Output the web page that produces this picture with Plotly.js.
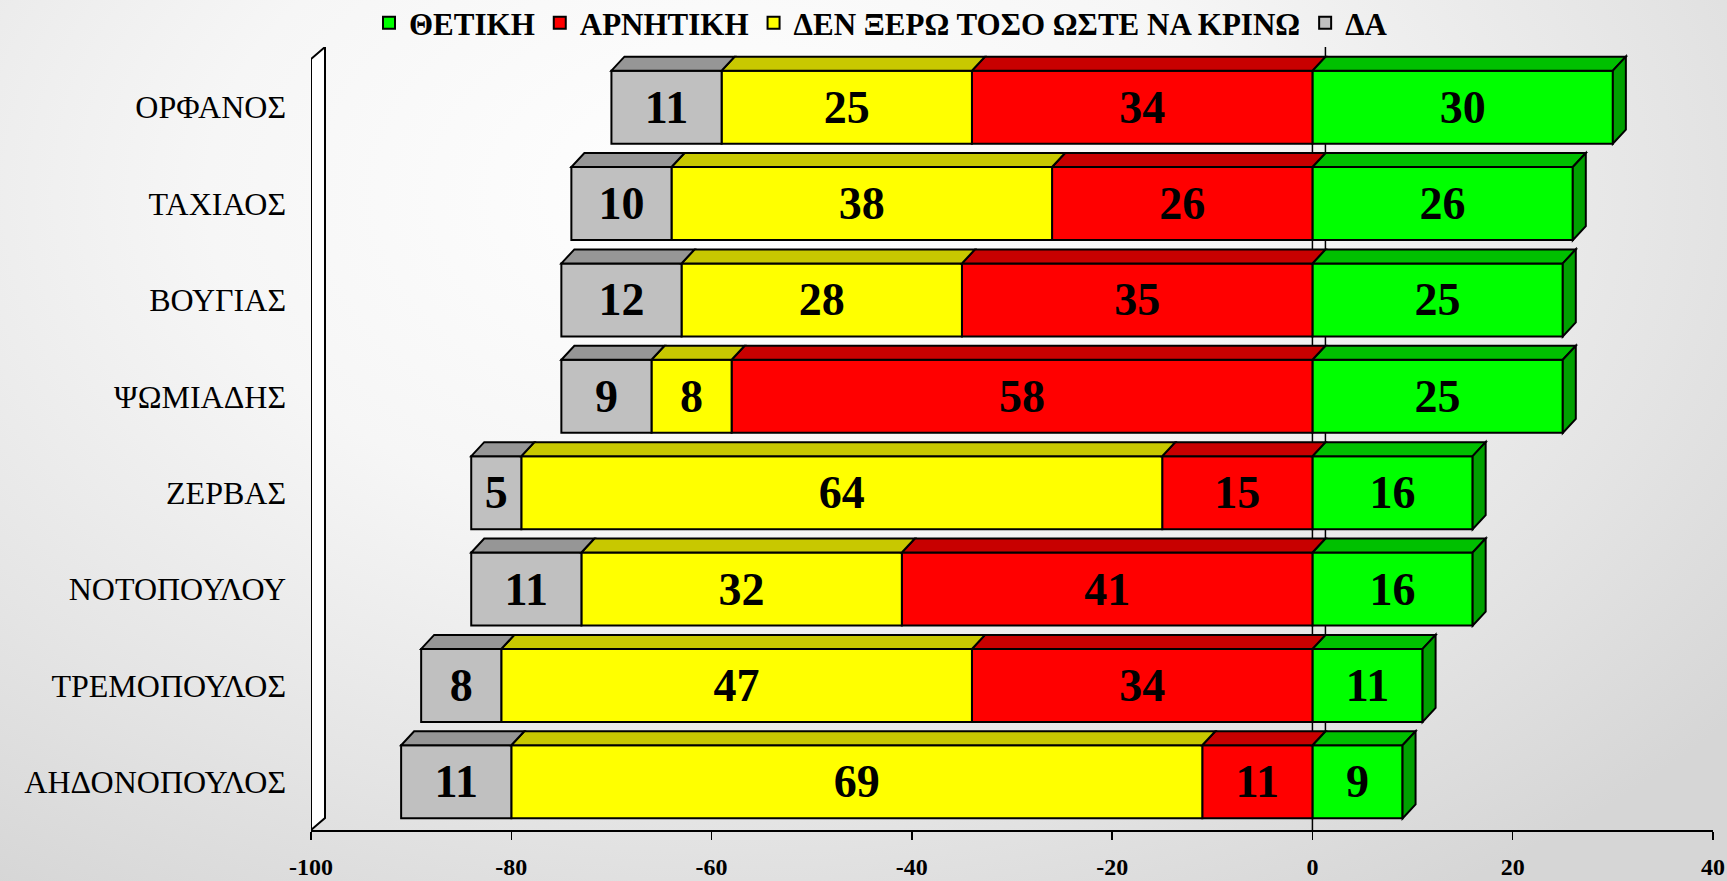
<!DOCTYPE html>
<html>
<head>
<meta charset="utf-8">
<script src="https://cdn.plot.ly/plotly-3.0.1.min.js"></script>
<style>
  html, body { margin: 0; padding: 0; width: 1727px; height: 881px; overflow: hidden; }
  body { background: radial-gradient(ellipse 75% 95% at 42% 22%, #ffffff 0%, #f6f6f6 40%, #e4e4e4 75%, #d6d6d6 100%); }
  #chart { width: 1727px; height: 881px; }
</style>
</head>
<body>
<div id="chart"></div>
<script>
// ---- data ----
const categories = ['ΟΡΦΑΝΟΣ', 'ΤΑΧΙΑΟΣ', 'ΒΟΥΓΙΑΣ', 'ΨΩΜΙΑΔΗΣ', 'ΖΕΡΒΑΣ', 'ΝΟΤΟΠΟΥΛΟΥ', 'ΤΡΕΜΟΠΟΥΛΟΣ', 'ΑΗΔΟΝΟΠΟΥΛΟΣ'];
const positive = [30, 26, 25, 25, 16, 16, 11, 9];
const negative = [34, 26, 35, 58, 15, 41, 34, 11];
const dontKnow = [25, 38, 28, 8, 64, 32, 47, 69];
const noAnswer = [11, 10, 12, 9, 5, 11, 8, 11];
const seriesNames = ['ΘΕΤΙΚΗ', 'ΑΡΝΗΤΙΚΗ', 'ΔΕΝ ΞΕΡΩ ΤΟΣΟ ΩΣΤΕ ΝΑ ΚΡΙΝΩ', 'ΔΑ'];
const xTicks = [-100, -80, -60, -40, -20, 0, 20, 40];

// ---- geometry / style ----
const W = 1727, H = 881;
const M = {l: 311, r: 14, t: 47, b: 51, autoexpand: false};
const plotW = W - M.l - M.r, plotH = H - M.t - M.b;
const xRange = [-100, 40];
const frontTopPx = 12; // front plane starts 12px below plot top
const pxPerCat = (plotH - frontTopPx) / categories.length;
const yTopVal = -0.5 - frontTopPx / pxPerCat;
const yRange = [categories.length - 0.5, yTopVal];
const pxPerX = plotW / (xRange[1] - xRange[0]);
const barW = 0.758;
const depthX = 13 / pxPerX, depthY = 14 / pxPerCat;
const wallX = 14 / pxPerX, wallY = 12 / pxPerCat;

const front = ['#00FF00', '#FF0000', '#FFFF00', '#C0C0C0'];
const topC = ['#00C000', '#C80000', '#C8C800', '#969696'];
const sideGreen = '#00A000';
const fontFam = 'Liberation Serif, Times New Roman, serif';

const yIdx = categories.map((_, i) => i);
const seriesVals = [positive, negative.map(v => -v), dontKnow.map(v => -v), noAnswer.map(v => -v)];
const rawVals = [positive, negative, dontKnow, noAnswer];

const traces = seriesVals.map((vals, s) => ({
  type: 'bar', orientation: 'h', name: seriesNames[s],
  x: vals, y: yIdx, width: barW,
  marker: {color: front[s], line: {color: '#000', width: 2}},
  text: rawVals[s].map(String), textposition: 'inside', insidetextanchor: 'middle',
  textangle: 0, constraintext: 'none',
  textfont: {family: fontFam, size: 46, color: '#000', weight: 'bold'},
  hoverinfo: 'skip'
}));

const shapes = [];
const P = (x, y) => x + ',' + y;
// left wall
shapes.push({type: 'path', layer: 'below', xref: 'x', yref: 'y',
  path: 'M' + P(xRange[0], yRange[0]) + ' L' + P(xRange[0], -0.5) + ' L' + P(xRange[0] + wallX, -0.5 - wallY) +
        ' L' + P(xRange[0] + wallX, yRange[0] - wallY) + ' Z',
  fillcolor: '#ffffff', line: {color: '#000', width: 2}});
// back zero line and front zero line
shapes.push({type: 'line', layer: 'below', xref: 'x', yref: 'y', x0: depthX, x1: depthX, y0: yRange[0] - wallY, y1: yTopVal,
  line: {color: '#000', width: 1.5}});
shapes.push({type: 'line', layer: 'below', xref: 'x', yref: 'y', x0: 0, x1: 0, y0: yRange[0], y1: -0.5,
  line: {color: '#000', width: 1.5}});

// 3D top faces and side face
yIdx.forEach(i => {
  const yt = i - barW / 2, yb = i + barW / 2;
  const segs = [];
  segs.push([0, positive[i], 0]);
  let c = 0;
  [negative, dontKnow, noAnswer].forEach((arr, k) => {
    segs.push([-(c + arr[i]), -c, k + 1]);
    c += arr[i];
  });
  segs.forEach(([x0, x1, s]) => {
    shapes.push({type: 'path', layer: 'above', xref: 'x', yref: 'y',
      path: 'M' + P(x0, yt) + ' L' + P(x1, yt) + ' L' + P(x1 + depthX, yt - depthY) + ' L' + P(x0 + depthX, yt - depthY) + ' Z',
      fillcolor: topC[s], line: {color: '#000', width: 2}});
  });
  const xr = positive[i];
  shapes.push({type: 'path', layer: 'above', xref: 'x', yref: 'y',
    path: 'M' + P(xr, yt) + ' L' + P(xr + depthX, yt - depthY) + ' L' + P(xr + depthX, yb - depthY) + ' L' + P(xr, yb) + ' Z',
    fillcolor: sideGreen, line: {color: '#000', width: 2}});
});

const layout = {
  width: W, height: H, autosize: false,
  margin: M,
  paper_bgcolor: 'rgba(0,0,0,0)', plot_bgcolor: 'rgba(0,0,0,0)',
  barmode: 'relative', bargap: 0,
  showlegend: true,
  legend: {orientation: 'h', x: (881 - M.l) / plotW, xanchor: 'center', y: 1 + 24 / plotH, yanchor: 'middle',
    font: {family: fontFam, size: 31, color: '#000', weight: 'bold'}, bgcolor: 'rgba(0,0,0,0)', traceorder: 'normal'},
  xaxis: {range: xRange, tickvals: xTicks, ticktext: xTicks.map(String), ticks: 'outside', ticklen: 8, tickwidth: 1.5, tickcolor: '#000',
    showline: true, linecolor: '#000', linewidth: 2, showgrid: false, zeroline: false,
    tickfont: {family: fontFam, size: 24, color: '#000', weight: 'bold'}, ticklabelstandoff: 6, fixedrange: true},
  yaxis: {type: 'linear', range: yRange, tickvals: yIdx, ticktext: categories, ticks: '', showline: false,
    showgrid: false, zeroline: false, tickfont: {family: fontFam, size: 32, color: '#000'}, ticklabelstandoff: 24, fixedrange: true},
  shapes: shapes
};

Plotly.newPlot('chart', traces, layout, {staticPlot: true, displayModeBar: false});
</script>
</body>
</html>
